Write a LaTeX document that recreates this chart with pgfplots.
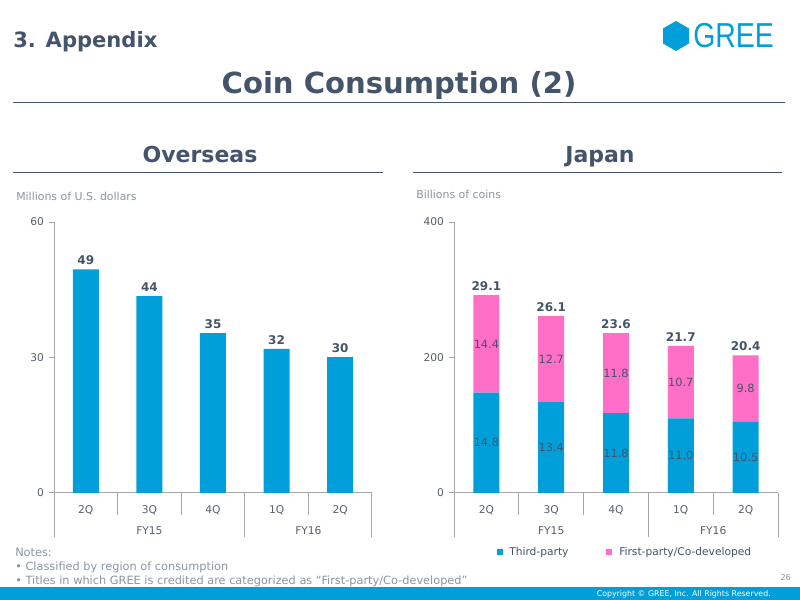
\documentclass[border=0pt]{standalone}
\usepackage{pgfplots}
\usepackage{pgfplotstable}
\pgfplotsset{compat=1.18}
\usepackage{fontspec}
\setmainfont{DejaVu Sans}
\newfontfamily\narrowfont[FakeStretch=0.82]{Liberation Sans}
\definecolor{gblue}{HTML}{009FDA}
\definecolor{gpink}{HTML}{FF6EC7}
\definecolor{slate}{HTML}{44546A}
\definecolor{ticklab}{HTML}{56606B}
\definecolor{txtgray}{HTML}{8A96A3}
\definecolor{axgray}{HTML}{A6A6A6}

\pgfplotstableread{
x v lab
0.5 49.5 49
1.5 43.6 44
2.5 35.4 35
3.5 31.9 32
4.5 30.1 30
}\overseas

% Japan: bar heights (axis units) and printed values (billions of coins)
\pgfplotstableread{
x third tlab first flab
0.5 148 14.8 144 14.4
1.5 134 13.4 127 12.7
2.5 118 11.8 118 11.8
3.5 110 11.0 107 10.7
4.5 105 10.5 98 9.8
}\japan

% Japan: label positions (segment middles and stack tops)
\pgfplotstableread{
x tmid tlab fmid flab top total
0.5 74 14.8 220 14.4 292 29.1
1.5 67 13.4 197.5 12.7 261 26.1
2.5 59 11.8 177 11.8 236 23.6
3.5 55 11.0 163.5 10.7 217 21.7
4.5 52.5 10.5 154 9.8 203 20.4
}\japanlab

\pgfplotsset{gree/.style={
  scale only axis, anchor=south west,
  xmin=0, xmax=5, ymin=0,
  axis x line*=bottom, axis y line*=left,
  axis line style={axgray, line width=0.75pt, -},
  xtick={0.5,1.5,2.5,3.5,4.5},
  xticklabels={2Q,3Q,4Q,1Q,2Q},
  x tick style={draw=none},
  y tick style={axgray, line width=0.75pt},
  tick align=outside, major tick length=4pt,
  clip=false,
  tick label style={font=\fontsize{8}{9}\selectfont, text=ticklab},
  xticklabel style={yshift=-2pt},
  /pgf/number format/assume math mode=true,
  bar width=19.5pt,
}}

\begin{document}
\begin{tikzpicture}
\begin{scope}[x=0.75pt,y=0.75pt]
\useasboundingbox (0,0) rectangle (800,600);
\fill[white] (0,0) rectangle (800,600);
% header
\node[anchor=base west, inner sep=0, text=slate, font=\bfseries\fontsize{15.8}{16}\selectfont] at (13,552) {3. Appendix};
\fill[gblue] (676,579) -- (689,571.5) -- (689,556.5) -- (676,549) -- (663,556.5) -- (663,571.5) -- cycle;
\node[anchor=base west, inner sep=0, text=gblue, font=\narrowfont\fontsize{26}{27}\selectfont] at (693,552) {GREE};
\node[anchor=base, inner sep=0, text=slate, font=\bfseries\fontsize{21.8}{23}\selectfont] at (399,506) {Coin Consumption (2)};
\draw[slate, line width=0.75pt] (13,497) -- (785,497);
% section titles
\node[anchor=base, inner sep=0, text=slate, font=\bfseries\fontsize{16.5}{17}\selectfont] at (200,437) {Overseas};
\draw[slate, line width=0.75pt] (13,427) -- (383,427);
\node[anchor=base, inner sep=0, text=slate, font=\bfseries\fontsize{16.5}{17}\selectfont] at (600,437) {Japan};
\draw[slate, line width=0.75pt] (413,427) -- (782,427);
\node[anchor=base west, inner sep=0, text=txtgray, font=\fontsize{8.2}{9}\selectfont] at (16,399) {Millions of U.S. dollars};
\node[anchor=base west, inner sep=0, text=txtgray, font=\fontsize{8.2}{9}\selectfont] at (416,401) {Billions of coins};
% legend
\fill[gblue] (497,45) rectangle (503,51);
\node[anchor=base west, inner sep=0, text=slate, font=\fontsize{8}{9}\selectfont] at (509,44) {Third-party};
\fill[gpink] (606,45) rectangle (612,51);
\node[anchor=base west, inner sep=0, text=slate, font=\fontsize{8}{9}\selectfont] at (619,44) {First-party/Co-developed};
% notes
\node[anchor=base west, inner sep=0, text=txtgray, font=\fontsize{8.5}{9}\selectfont] at (15,43) {Notes:};
\node[anchor=base west, inner sep=0, text=txtgray, font=\fontsize{8.5}{9}\selectfont] at (15,29) {• Classified by region of consumption};
\node[anchor=base west, inner sep=0, text=txtgray, font=\fontsize{8.5}{9}\selectfont] at (15,16) {• Titles in which GREE is credited are categorized as “First-party/Co-developed”};
\node[anchor=base east, inner sep=0, text=txtgray, font=\fontsize{6}{7}\selectfont] at (791,19) {26};
% footer
\fill[gblue] (0,0) rectangle (800,13);
\node[anchor=base east, inner sep=0, text=white, font=\fontsize{5.9}{6}\selectfont] at (771,3) {Copyright © GREE, Inc. All Rights Reserved.};
\end{scope}

% Overseas chart
\begin{axis}[gree, at={(40.5pt,80.25pt)}, width=238.5pt, height=203.25pt,
  ymax=60, ytick={0,30,60}]
\addplot[ybar, fill=gblue, draw=none,
  nodes near coords, point meta=explicit symbolic,
  every node near coord/.append style={font=\bfseries\fontsize{9}{10}\selectfont, text=slate}]
  table[x=x, y=v, meta=lab] {\overseas};
\draw[axgray, line width=0.75pt] (axis cs:0,0) -- ++(0pt,-33pt);
\draw[axgray, line width=0.75pt] (axis cs:3,0) -- ++(0pt,-33pt);
\draw[axgray, line width=0.75pt] (axis cs:5,0) -- ++(0pt,-33pt);
\draw[axgray, line width=0.75pt] (axis cs:1,0) -- ++(0pt,-16.5pt);
\draw[axgray, line width=0.75pt] (axis cs:2,0) -- ++(0pt,-16.5pt);
\draw[axgray, line width=0.75pt] (axis cs:4,0) -- ++(0pt,-16.5pt);
\node[font=\fontsize{8}{9}\selectfont, text=ticklab] at (axis cs:1.5,0) [yshift=-28.5pt] {FY15};
\node[font=\fontsize{8}{9}\selectfont, text=ticklab] at (axis cs:4,0) [yshift=-28.5pt] {FY16};
\end{axis}

% Japan chart
\begin{axis}[gree, at={(340.5pt,80.25pt)}, width=243pt, height=203.25pt,
  ymax=400, ytick={0,200,400}, ybar stacked]
\addplot[fill=gblue, draw=none] table[x=x, y=third] {\japan};
\addplot[fill=gpink, draw=none] table[x=x, y=first] {\japan};
\draw[axgray, line width=0.75pt] (axis cs:0,0) -- ++(0pt,-33pt);
\draw[axgray, line width=0.75pt] (axis cs:3,0) -- ++(0pt,-33pt);
\draw[axgray, line width=0.75pt] (axis cs:5,0) -- ++(0pt,-33pt);
\draw[axgray, line width=0.75pt] (axis cs:1,0) -- ++(0pt,-16.5pt);
\draw[axgray, line width=0.75pt] (axis cs:2,0) -- ++(0pt,-16.5pt);
\draw[axgray, line width=0.75pt] (axis cs:4,0) -- ++(0pt,-16.5pt);
\node[font=\fontsize{8}{9}\selectfont, text=ticklab] at (axis cs:1.5,0) [yshift=-28.5pt] {FY15};
\node[font=\fontsize{8}{9}\selectfont, text=ticklab] at (axis cs:4,0) [yshift=-28.5pt] {FY16};
\end{axis}

% Japan labels (overlay axis with identical geometry)
\begin{axis}[scale only axis, anchor=south west, at={(340.5pt,80.25pt)}, width=243pt, height=203.25pt,
  xmin=0, xmax=5, ymin=0, ymax=400, hide axis, clip=false]
\addplot[only marks, mark=none, nodes near coords, point meta=explicit symbolic,
  every node near coord/.append style={font=\fontsize{8.5}{9}\selectfont, text=slate, anchor=center}]
  table[x=x, y=tmid, meta=tlab] {\japanlab};
\addplot[only marks, mark=none, nodes near coords, point meta=explicit symbolic,
  every node near coord/.append style={font=\fontsize{8.5}{9}\selectfont, text=slate, anchor=center}]
  table[x=x, y=fmid, meta=flab] {\japanlab};
\addplot[only marks, mark=none, nodes near coords, point meta=explicit symbolic,
  every node near coord/.append style={font=\bfseries\fontsize{9}{10}\selectfont, text=slate, anchor=south}]
  table[x=x, y=top, meta=total] {\japanlab};
\end{axis}
\end{tikzpicture}
\end{document}
